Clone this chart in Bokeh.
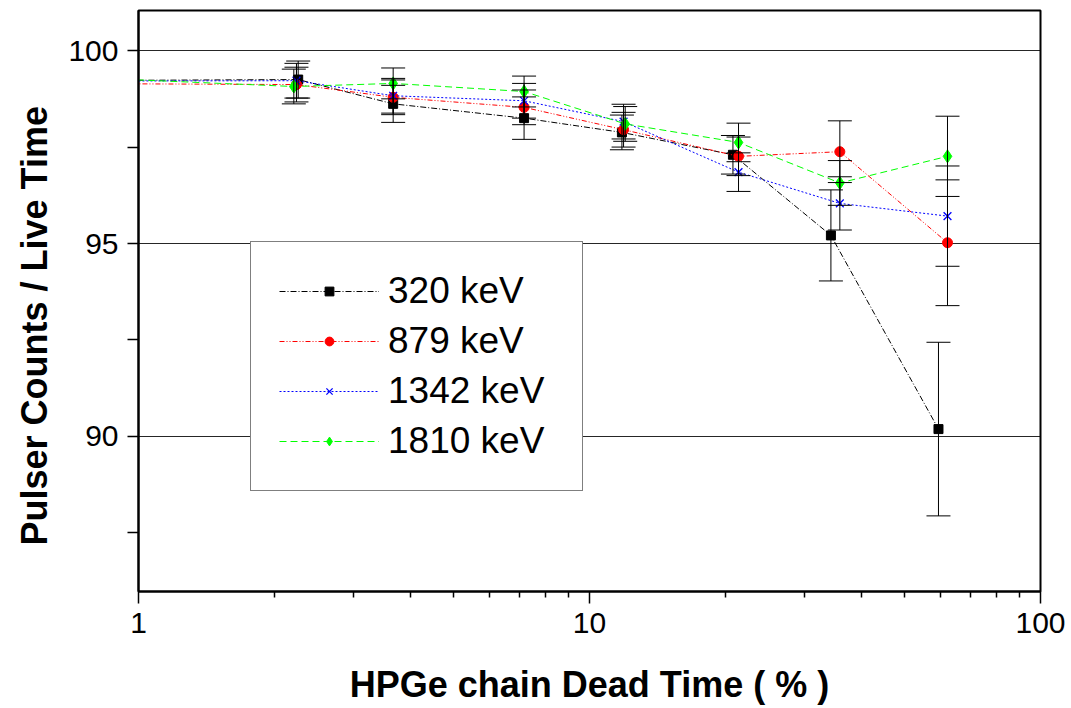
from bokeh.plotting import figure
from bokeh.models import (ColumnDataSource, Whisker, TeeHead, Legend, LegendItem,
                          FixedTicker, Range1d, Title, PrintfTickFormatter)
from bokeh.embed import file_html
from bokeh.resources import INLINE

# ---------------- data ----------------
labels = ["320 keV", "879 keV", "1342 keV", "1810 keV"]

dt_320 = [0.6, 2.26, 3.67, 7.16, 11.8, 20.8, 34.3, 59.4]
dt_879 = [0.6, 2.24, 3.67, 7.16, 11.9, 21.4, 35.9, 62.2]
dt_1342 = [0.6, 2.24, 3.67, 7.16, 11.9, 21.4, 35.9, 62.2]
dt_1810 = [0.6, 2.21, 3.67, 7.16, 12.0, 21.4, 35.9, 62.2]

val_320 = [99.22, 99.25, 98.62, 98.25, 97.88, 97.30, 95.21, 90.19]
val_879 = [99.15, 99.12, 98.79, 98.53, 97.95, 97.26, 97.38, 95.02]
val_1342 = [99.21, 99.22, 98.83, 98.70, 98.16, 96.85, 96.04, 95.71]
val_1810 = [99.35, 99.07, 99.15, 98.94, 98.10, 97.62, 96.57, 97.26]

err_320 = [0.45, 0.48, 0.48, 0.55, 0.45, 0.50, 1.18, 2.25]
err_879 = [0.45, 0.45, 0.45, 0.45, 0.45, 0.50, 0.80, 1.63]
err_1342 = [0.45, 0.45, 0.45, 0.45, 0.45, 0.50, 0.69, 1.30]
err_1810 = [0.45, 0.45, 0.40, 0.40, 0.45, 0.50, 0.58, 1.04]

y_ticks = [90, 95, 100]
y_minor = [87.5, 92.5, 97.5]
x_ticks = [1, 10, 100]
x_minor = [2, 3, 4, 5, 6, 7, 8, 9, 20, 30, 40, 50, 60, 70, 80, 90]

colors = ["#000000", "#ff0000", "#0000ff", "#00ff00"]
dashes = ["6 2 1 2", "5 2 1 2 1 2", "2 2", "7 4"]
markers = ["square", "circle", "x", "diamond"]
msizes = [9, 10, 11, 13]

FONT = "Liberation Sans"

p = figure(width=1071, height=708, x_axis_type="log",
           x_range=Range1d(1, 100), y_range=Range1d(85.98, 101.04),
           output_backend="svg", toolbar_location=None,
           min_border_left=137, min_border_right=31,
           min_border_top=10, min_border_bottom=117)

p.outline_line_color = "black"
p.outline_line_width = 2
p.background_fill_color = "white"
p.border_fill_color = "white"

# grids
p.xgrid.visible = False
p.ygrid.grid_line_color = "black"
p.ygrid.grid_line_width = 1
p.ygrid.grid_line_alpha = 0.85

# axes
p.xaxis.ticker = FixedTicker(ticks=x_ticks, minor_ticks=x_minor)
p.xaxis.formatter = PrintfTickFormatter(format="%d")
p.yaxis.ticker = FixedTicker(ticks=y_ticks, minor_ticks=y_minor)
p.ygrid.ticker = FixedTicker(ticks=y_ticks)

for ax in (p.xaxis, p.yaxis):
    ax.axis_line_width = 2
    ax.axis_line_color = "black"
    ax.major_tick_line_color = "black"
    ax.minor_tick_line_color = "black"
    ax.major_tick_line_width = 1.5
    ax.minor_tick_line_width = 1.5
    ax.major_tick_in = 0
    ax.minor_tick_in = 0
    ax.major_label_text_font = FONT
    ax.major_label_text_font_size = "30px"
    ax.major_label_text_color = "black"

p.xaxis.major_tick_out = 12
p.xaxis.minor_tick_out = 6
p.xaxis.major_label_standoff = 9
p.yaxis.major_tick_out = 11
p.yaxis.minor_tick_out = 11
p.yaxis.major_label_standoff = 9

p.xaxis.axis_label = "HPGe chain Dead Time ( % )"
p.xaxis.axis_label_text_font = FONT
p.xaxis.axis_label_text_font_size = "36px"
p.xaxis.axis_label_text_font_style = "bold"
p.xaxis.axis_label_text_color = "black"
p.xaxis.axis_label_text_line_height = 0.8
p.xaxis.axis_label_standoff = 28

ytitle = Title(text="Pulser Counts / Live Time", align="left", offset=46,
               text_font=FONT, text_font_size="36px", text_font_style="bold",
               text_color="black", standoff=22)
p.add_layout(ytitle, "left")

# series
xs_all = [dt_320, dt_879, dt_1342, dt_1810]
ys_all = [val_320, val_879, val_1342, val_1810]
es_all = [err_320, err_879, err_1342, err_1810]

items = []
for lab, xs, ys, es, c, d, m, s in zip(labels, xs_all, ys_all, es_all,
                                       colors, dashes, markers, msizes):
    src = ColumnDataSource(dict(x=xs, y=ys))
    wsrc = ColumnDataSource(dict(x=xs[1:],
                                 upper=[y + e for y, e in zip(ys[1:], es[1:])],
                                 lower=[y - e for y, e in zip(ys[1:], es[1:])]))
    w = Whisker(base="x", upper="upper", lower="lower", source=wsrc,
                dimension="height", line_color="black", line_width=1,
                upper_head=TeeHead(size=24, line_color="black", line_width=1),
                lower_head=TeeHead(size=24, line_color="black", line_width=1),
                level="glyph")
    p.add_layout(w)
    lr = p.line("x", "y", source=src, line_color=c, line_width=1, line_dash=d)
    if m == "x":
        sr = p.scatter("x", "y", source=src, marker=m, size=s, line_color=c, line_width=1.3)
    else:
        sr = p.scatter("x", "y", source=src, marker=m, size=s, fill_color=c, line_color=c)
    items.append(LegendItem(label=lab, renderers=[lr, sr]))

legend = Legend(items=items, location=(112, 100), margin=0, padding=28,
                spacing=8, glyph_width=100, glyph_height=22, label_height=42,
                label_width=166, label_standoff=9,
                label_text_font=FONT, label_text_font_size="37px",
                label_text_color="black",
                border_line_color="black", border_line_width=1.5,
                background_fill_color="white", background_fill_alpha=1.0)
p.add_layout(legend)

open("out.html", "w").write(file_html(p, INLINE))
